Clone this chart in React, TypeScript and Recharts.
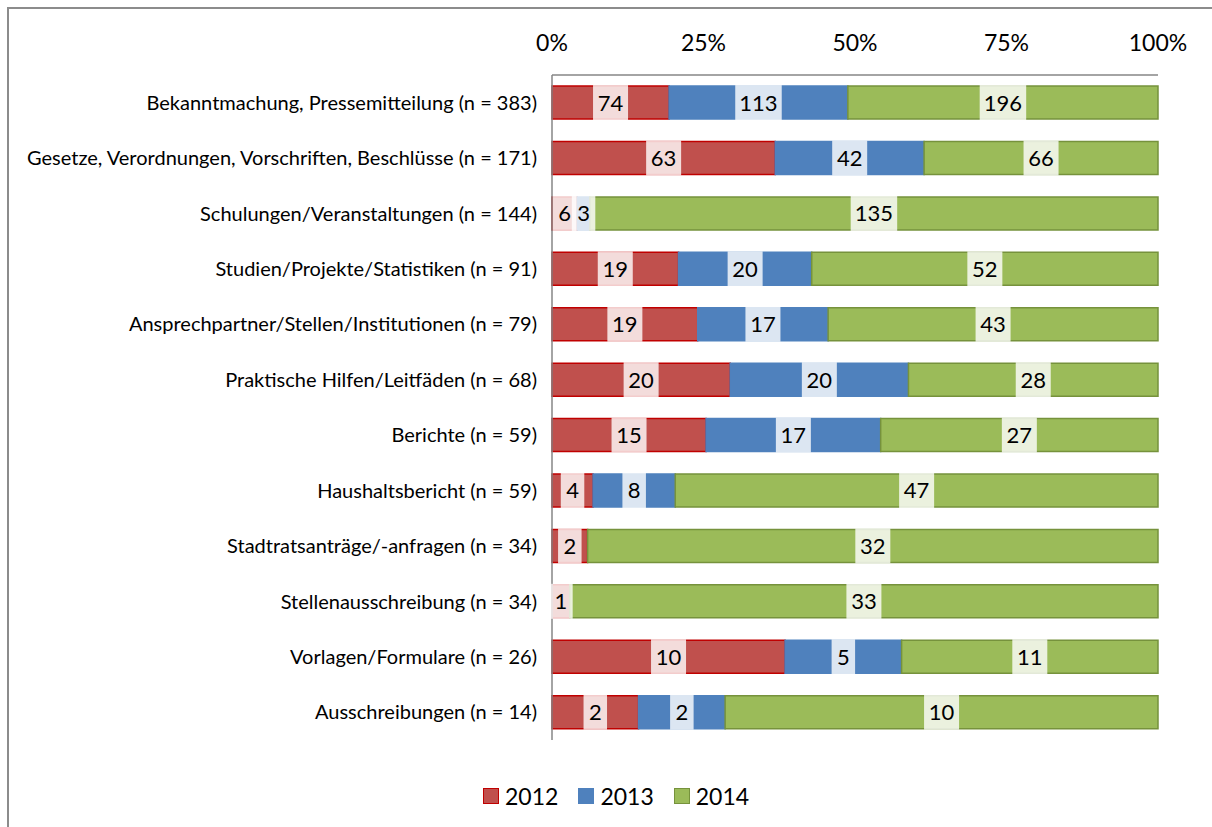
import { BarChart, Bar, XAxis, YAxis, LabelList, Legend } from "recharts";

const categories = [
  "Bekanntmachung, Pressemitteilung (n = 383)",
  "Gesetze, Verordnungen, Vorschriften, Beschlüsse (n = 171)",
  "Schulungen/Veranstaltungen (n = 144)",
  "Studien/Projekte/Statistiken (n = 91)",
  "Ansprechpartner/Stellen/Institutionen (n = 79)",
  "Praktische Hilfen/Leitfäden (n = 68)",
  "Berichte (n = 59)",
  "Haushaltsbericht (n = 59)",
  "Stadtratsanträge/-anfragen (n = 34)",
  "Stellenausschreibung (n = 34)",
  "Vorlagen/Formulare (n = 26)",
  "Ausschreibungen (n = 14)",
];

const values2012 = [74, 63, 6, 19, 19, 20, 15, 4, 2, 1, 10, 2];
const values2013 = [113, 42, 3, 20, 17, 20, 17, 8, 0, 0, 5, 2];
const values2014 = [196, 66, 135, 52, 43, 28, 27, 47, 32, 33, 11, 10];

const percentTicks = [0, 0.25, 0.5, 0.75, 1];

const series = [
  { key: "y2012", name: "2012", fill: "#c0504d", stroke: "#c00000" },
  { key: "y2013", name: "2013", fill: "#4f81bd", stroke: "#4f81bd" },
  { key: "y2014", name: "2014", fill: "#9bbb59", stroke: "#76923c" },
];

const data = categories.map((name, i) => ({
  name,
  y2012: values2012[i],
  y2013: values2013[i],
  y2014: values2014[i],
}));

const FONT = "Lato, 'Open Sans', sans-serif";

// weißer halbtransparenter Kasten hinter dem Wert
function BoxLabel(props: any) {
  const vb = props.viewBox || props;
  const { x, y, width, height } = vb;
  const value = props.value;
  if (!value) return null;
  const text = String(value);
  const w = text.length * 11.5 + 12;
  const cx = x + width / 2;
  return (
    <g>
      <rect x={cx - w / 2} y={y - 1} width={w} height={height + 2} fill="#fff" fillOpacity={0.8} />
      <text
        x={cx}
        y={y + height / 2}
        dy="0.36em"
        textAnchor="middle"
        fontSize={22}
        fontFamily={FONT}
        fill="#000"
      >
        {text}
      </text>
    </g>
  );
}

function LegendContent() {
  return (
    <div
      style={{
        display: "flex",
        alignItems: "center",
        height: 30,
        fontFamily: FONT,
        fontSize: 23,
        color: "#000",
      }}
    >
      {series.map((s) => (
        <div key={s.key} style={{ display: "flex", alignItems: "center", marginRight: 20 }}>
          <span
            style={{
              display: "inline-block",
              width: 14,
              height: 14,
              background: s.fill,
              border: `1.5px solid ${s.stroke}`,
              marginRight: 6,
            }}
          />
          <span>{s.name}</span>
        </div>
      ))}
    </div>
  );
}

export default function App() {
  return (
    <div
      style={{
        position: "absolute",
        left: 7,
        top: 7,
        width: 1204,
        height: 819,
        borderTop: "2px solid #8c8c8c",
        borderLeft: "2px solid #8c8c8c",
        background: "#fff",
      }}
    >
      <BarChart
        width={1202}
        height={817}
        data={data}
        layout="vertical"
        stackOffset="expand"
        barCategoryGap="20%"
        margin={{ top: 26, right: 53, bottom: 56, left: 0 }}
      >
        <XAxis
          type="number"
          orientation="top"
          domain={[0, 1]}
          ticks={percentTicks}
          tickFormatter={(v: number) => `${Math.round(v * 100)}%`}
          height={40}
          tickLine={false}
          axisLine={{ stroke: "#868686", strokeWidth: 1.5 }}
          tick={{ fontSize: 23, fontFamily: FONT, fill: "#000" }}
          tickMargin={18}
        />
        <YAxis
          type="category"
          dataKey="name"
          width={543}
          tickLine={false}
          axisLine={{ stroke: "#868686", strokeWidth: 1.5 }}
          tick={{ fontSize: 20, fontFamily: FONT, fill: "#000" }}
          tickMargin={9}
          interval={0}
        />
        <Legend
          verticalAlign="bottom"
          content={<LegendContent />}
          wrapperStyle={{ left: 474, top: 772, bottom: "auto", width: 320, height: 30 }}
        />
        {series.map((s) => (
          <Bar
            key={s.key}
            dataKey={s.key}
            name={s.name}
            stackId="a"
            fill={s.fill}
            stroke={s.stroke}
            strokeWidth={1.5}
            isAnimationActive={false}
          >
            <LabelList dataKey={s.key} content={<BoxLabel />} />
          </Bar>
        ))}
      </BarChart>
    </div>
  );
}
